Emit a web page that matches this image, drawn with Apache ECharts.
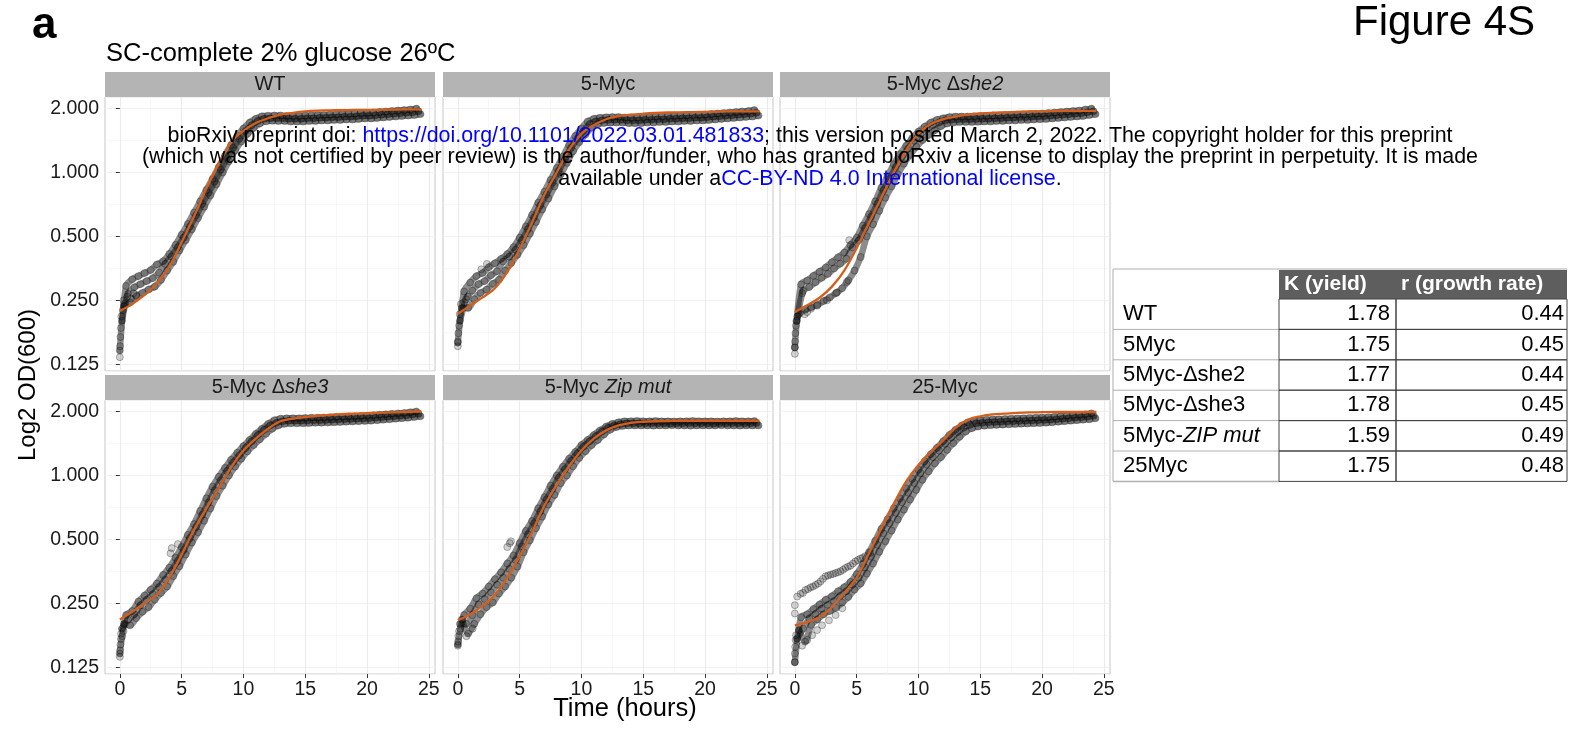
<!DOCTYPE html>
<html>
<head>
<meta charset="utf-8">
<script src="https://cdn.jsdelivr.net/npm/echarts@6/dist/echarts.min.js"></script>
<style>
  html, body { margin: 0; padding: 0; background: #fff; }
  #chart { width: 1576px; height: 729px; }
</style>
</head>
<body>
<div id="chart"></div>
<script>
// growth curves, SC-complete 2% glucose 26C
const FONT = '"Liberation Sans", Arial, Helvetica, sans-serif';

// sampling times (h) of the three replicate wells, and of the fitted curve
const TA = [0,0.5,1,1.5,2,2.5,3,3.5,4,4.5,5,5.5,6,6.5,7,7.5,8,8.5,9,9.5,10,10.5,11,11.5,12,12.5,13,13.5,14,14.5,15,15.5,16,16.5,17,17.5,18,18.5,19,19.5,20,20.5,21,21.5,22,22.5,23,23.5,24];
const TB = [0.17,0.67,1.17,1.67,2.17,2.67,3.17,3.67,4.17,4.67,5.17,5.67,6.17,6.67,7.17,7.67,8.17,8.67,9.17,9.67,10.17,10.67,11.17,11.67,12.17,12.67,13.17,13.67,14.17,14.67,15.17,15.67,16.17,16.67,17.17,17.67,18.17,18.67,19.17,19.67,20.17,20.67,21.17,21.67,22.17,22.67,23.17,23.67,24.17];
const TC = [0.33,0.83,1.33,1.83,2.33,2.83,3.33,3.83,4.33,4.83,5.33,5.83,6.33,6.83,7.33,7.83,8.33,8.83,9.33,9.83,10.33,10.83,11.33,11.83,12.33,12.83,13.33,13.83,14.33,14.83,15.33,15.83,16.33,16.83,17.33,17.83,18.33,18.83,19.33,19.83,20.33,20.83,21.33,21.83,22.33,22.83,23.33,23.83,24.33];
const TF = [0,1,2,3,4,5,6,7,8,9,10,11,12,13,14,15,16,17,18,19,20,21,22,23,24,24.4];

const panelTitles = ['WT', '5-Myc', '5-Myc \u0394{i|she2}', '5-Myc \u0394{i|she3}', '5-Myc {i|Zip mut}', '25-Myc'];

// OD600 per well
const wtA = [0.145,0.292,0.314,0.325,0.336,0.347,0.369,0.382,0.413,0.456,
  0.509,0.572,0.647,0.731,0.827,0.933,1.06,1.198,1.346,1.484,
  1.611,1.717,1.79,1.84,1.85,1.854,1.854,1.844,1.844,1.844,
  1.854,1.854,1.864,1.864,1.875,1.875,1.885,1.885,1.895,1.906,
  1.906,1.916,1.926,1.936,1.947,1.957,1.967,1.978,1.998];
const wtB = [0.20,0.268,0.288,0.298,0.308,0.318,0.338,0.371,0.402,0.443,
  0.494,0.556,0.628,0.711,0.803,0.906,1.03,1.164,1.308,1.442,
  1.566,1.669,1.751,1.79,1.80,1.80,1.80,1.79,1.79,1.79,
  1.80,1.80,1.81,1.81,1.82,1.82,1.83,1.83,1.84,1.85,
  1.85,1.86,1.87,1.88,1.89,1.90,1.91,1.92,1.94];
const wtC = [0.235,0.244,0.262,0.271,0.281,0.29,0.312,0.345,0.38,0.43,
  0.48,0.54,0.61,0.69,0.78,0.88,1.0,1.13,1.27,1.40,
  1.52,1.62,1.70,1.74,1.75,1.746,1.746,1.736,1.736,1.736,
  1.746,1.746,1.756,1.756,1.765,1.765,1.775,1.775,1.785,1.795,
  1.795,1.804,1.814,1.824,1.833,1.843,1.853,1.862,1.882];
const wtX = [[0,0.135],[0.02,0.152],[0.05,0.168],[0.08,0.185],[0.12,0.21],[0.25,0.225],[0.3,0.25],[0.6,0.26],[0.9,0.255],[1.3,0.265],[1.1,0.27],[0.4,0.24]];

const mycA = [0.158,0.275,0.303,0.325,0.336,0.358,0.374,0.392,0.413,0.445,
  0.493,0.557,0.631,0.721,0.811,0.922,1.049,1.187,1.346,1.484,
  1.611,1.738,1.79,1.81,1.82,1.823,1.823,1.813,1.813,1.813,
  1.823,1.823,1.833,1.833,1.844,1.844,1.854,1.854,1.864,1.864,
  1.875,1.885,1.895,1.906,1.916,1.926,1.936,1.947,1.967];
const mycB = [0.20,0.253,0.278,0.298,0.308,0.328,0.343,0.381,0.402,0.433,
  0.479,0.541,0.613,0.70,0.788,0.896,1.02,1.154,1.308,1.442,
  1.566,1.689,1.74,1.76,1.77,1.77,1.77,1.76,1.76,1.76,
  1.77,1.77,1.78,1.78,1.79,1.79,1.80,1.80,1.81,1.81,
  1.82,1.83,1.84,1.85,1.86,1.87,1.88,1.89,1.91];
const mycC = [0.23,0.23,0.253,0.271,0.281,0.299,0.313,0.345,0.375,0.41,
  0.455,0.515,0.585,0.67,0.755,0.86,0.98,1.11,1.26,1.39,
  1.51,1.63,1.69,1.71,1.715,1.717,1.717,1.707,1.707,1.707,
  1.717,1.717,1.727,1.727,1.736,1.736,1.746,1.746,1.756,1.756,
  1.765,1.775,1.785,1.795,1.804,1.814,1.824,1.833,1.853];
const mycX = [[0,0.152],[0,0.16],[0.05,0.175],[0.1,0.19],[0.15,0.215],[0.25,0.24],[2.35,0.371],[1.9,0.35],[0.5,0.245],[0.8,0.26]];

const she2A = [0.15,0.297,0.31,0.326,0.341,0.357,0.378,0.399,0.42,0.456,
  0.493,0.562,0.636,0.731,0.848,0.959,1.092,1.219,1.336,1.452,
  1.558,1.643,1.717,1.77,1.80,1.823,1.833,1.833,1.833,1.839,
  1.844,1.844,1.854,1.854,1.864,1.864,1.875,1.875,1.885,1.89,
  1.895,1.906,1.916,1.926,1.936,1.947,1.957,1.978,1.998];
const she2B = [0.20,0.277,0.289,0.304,0.319,0.333,0.353,0.372,0.392,0.443,
  0.479,0.546,0.618,0.711,0.824,0.932,1.061,1.185,1.298,1.411,
  1.514,1.597,1.669,1.72,1.76,1.77,1.78,1.78,1.78,1.785,
  1.79,1.79,1.80,1.80,1.81,1.81,1.82,1.82,1.83,1.835,
  1.84,1.85,1.86,1.87,1.88,1.89,1.90,1.92,1.94];
const she2C = [0.215,0.226,0.232,0.238,0.248,0.258,0.27,0.285,0.31,0.345,
  0.40,0.50,0.57,0.66,0.76,0.86,0.98,1.10,1.21,1.32,
  1.42,1.50,1.58,1.65,1.70,1.717,1.727,1.727,1.727,1.731,
  1.736,1.736,1.746,1.746,1.756,1.756,1.765,1.765,1.775,1.78,
  1.785,1.795,1.804,1.814,1.824,1.833,1.843,1.862,1.882];
const she2X = [[0,0.14],[0,0.15],[0.02,0.16],[0.05,0.175],[0.08,0.19],[0.12,0.2],[0.2,0.21],[0.8,0.215],[1.3,0.228],[1.8,0.236],[2.6,0.25],[3.4,0.272],[4.2,0.305],[4.4,0.48],[0.6,0.27],[1.0,0.22]];

const she3A = [0.145,0.22,0.23,0.255,0.272,0.29,0.31,0.34,0.368,0.41,
  0.46,0.525,0.59,0.68,0.78,0.885,0.985,1.085,1.185,1.28,
  1.375,1.47,1.57,1.66,1.75,1.82,1.85,1.86,1.86,1.86,
  1.865,1.87,1.87,1.875,1.88,1.885,1.89,1.895,1.90,1.905,
  1.91,1.92,1.93,1.94,1.95,1.96,1.97,1.985,2.0];
const she3B = [0.19,0.209,0.222,0.245,0.26,0.276,0.298,0.323,0.355,0.395,
  0.446,0.507,0.571,0.653,0.745,0.852,0.949,1.05,1.153,1.244,
  1.346,1.448,1.55,1.64,1.72,1.77,1.80,1.81,1.81,1.81,
  1.815,1.82,1.82,1.825,1.83,1.835,1.84,1.845,1.85,1.855,
  1.86,1.87,1.88,1.89,1.90,1.91,1.92,1.935,1.95];
const she3C = [0.20,0.197,0.213,0.228,0.24,0.26,0.28,0.30,0.336,0.374,
  0.425,0.483,0.54,0.613,0.70,0.80,0.895,1.0,1.10,1.20,
  1.30,1.39,1.48,1.57,1.66,1.72,1.75,1.76,1.76,1.76,
  1.765,1.77,1.77,1.775,1.78,1.785,1.79,1.795,1.80,1.805,
  1.81,1.82,1.83,1.84,1.85,1.86,1.87,1.885,1.90];
const she3X = [[0,0.14],[0.02,0.15],[0.05,0.16],[0.08,0.17],[0.1,0.18],[0.2,0.175],[0.3,0.185],[4.1,0.43],[4.2,0.455],[4.7,0.475]];

const zipA = [0.16,0.22,0.236,0.264,0.278,0.30,0.325,0.35,0.385,0.42,
  0.48,0.548,0.61,0.70,0.79,0.895,1.0,1.10,1.20,1.29,
  1.39,1.47,1.55,1.63,1.70,1.75,1.78,1.80,1.80,1.805,
  1.80,1.80,1.805,1.80,1.80,1.795,1.80,1.80,1.805,1.80,
  1.80,1.80,1.795,1.80,1.80,1.805,1.80,1.80,1.805];
const zipB = [0.20,0.20,0.22,0.247,0.262,0.282,0.306,0.33,0.363,0.40,
  0.463,0.528,0.596,0.677,0.77,0.865,0.977,1.07,1.173,1.27,
  1.367,1.45,1.53,1.61,1.68,1.72,1.745,1.76,1.76,1.76,
  1.76,1.765,1.76,1.76,1.755,1.76,1.76,1.765,1.76,1.76,
  1.76,1.755,1.76,1.76,1.765,1.76,1.76,1.76,1.765];
const zipC = [0.21,0.18,0.20,0.222,0.24,0.252,0.278,0.30,0.33,0.372,
  0.435,0.495,0.565,0.64,0.73,0.81,0.92,1.0,1.105,1.21,
  1.30,1.39,1.47,1.56,1.64,1.69,1.71,1.72,1.72,1.72,
  1.72,1.715,1.72,1.72,1.725,1.72,1.72,1.715,1.72,1.72,
  1.72,1.72,1.725,1.72,1.72,1.715,1.72,1.72,1.72];
const zipX = [[0,0.158],[0.02,0.165],[0.05,0.175],[0.1,0.185],[0.2,0.19],[4.0,0.46],[4.2,0.48],[4.3,0.49],[0.7,0.175],[1.2,0.19]];

const m25A = [0.132,0.215,0.222,0.235,0.247,0.26,0.27,0.285,0.298,0.315,
  0.343,0.382,0.435,0.492,0.56,0.622,0.70,0.78,0.87,0.965,
  1.065,1.165,1.26,1.35,1.45,1.55,1.64,1.72,1.78,1.81,
  1.82,1.83,1.835,1.84,1.845,1.85,1.855,1.86,1.865,1.87,
  1.875,1.88,1.89,1.90,1.91,1.92,1.93,1.94,1.96];
const m25B = [0.17,0.19,0.212,0.223,0.236,0.246,0.256,0.271,0.285,0.306,
  0.33,0.369,0.415,0.472,0.533,0.595,0.667,0.748,0.83,0.922,
  1.025,1.127,1.22,1.31,1.41,1.51,1.60,1.68,1.73,1.76,
  1.77,1.78,1.785,1.79,1.795,1.80,1.805,1.81,1.815,1.82,
  1.825,1.83,1.84,1.85,1.86,1.87,1.88,1.89,1.91];
const m25C = [0.187,0.165,0.198,0.21,0.222,0.23,0.238,0.252,0.268,0.29,
  0.31,0.345,0.385,0.437,0.49,0.55,0.62,0.69,0.77,0.855,
  0.955,1.045,1.14,1.22,1.32,1.42,1.52,1.61,1.67,1.70,
  1.715,1.725,1.73,1.735,1.74,1.745,1.75,1.755,1.76,1.765,
  1.77,1.78,1.79,1.80,1.81,1.82,1.83,1.84,1.86];
const m25X = [[0.19,0.269],[0.46,0.277],[0.86,0.289],[1.27,0.297],[1.68,0.305],[2.08,0.317],[2.49,0.335],[2.89,0.341],[3.3,0.347],[3.7,0.354],[4.1,0.367],[4.5,0.376],[4.9,0.394],[5.3,0.406],[5.7,0.417],[6.1,0.432],
  [0.66,0.28],[1.07,0.292],[1.47,0.3],[1.88,0.31],[2.28,0.326],[2.69,0.338],[3.1,0.344],[3.5,0.35],[3.9,0.36],[4.3,0.372],[4.7,0.385],[5.1,0.4],[5.5,0.41],
  [0,0.245],[0,0.224],
  [0.59,0.158],[1.0,0.168],[1.4,0.177],[1.8,0.187],[2.2,0.197],[2.76,0.208],[3.3,0.22],[3.84,0.237],
  [0,0.132],[0,0.145],[0.03,0.156],[0.06,0.168],[0.1,0.177]];

// fitted logistic curves, read at TF
const wtFit = [0.223,0.24,0.265,0.30,0.36,0.47,0.62,0.84,1.10,1.39,1.57,1.71,1.80,1.87,1.91,1.94,1.955,1.96,1.965,1.97,1.97,1.975,1.975,1.98,1.98,1.98];
const mycFit = [0.216,0.236,0.258,0.285,0.34,0.436,0.58,0.785,1.0,1.28,1.52,1.67,1.78,1.84,1.87,1.89,1.905,1.915,1.92,1.925,1.93,1.935,1.94,1.94,1.94,1.94];
const she2Fit = [0.22,0.237,0.257,0.29,0.345,0.44,0.58,0.76,1.0,1.27,1.52,1.69,1.78,1.83,1.87,1.895,1.91,1.92,1.93,1.94,1.94,1.945,1.95,1.95,1.95,1.95];
const she3Fit = [0.21,0.228,0.25,0.275,0.33,0.424,0.555,0.70,0.87,1.09,1.31,1.49,1.66,1.80,1.85,1.88,1.91,1.93,1.945,1.955,1.965,1.975,1.98,1.99,2.0,2.0];
const zipFit = [0.208,0.222,0.243,0.275,0.33,0.417,0.54,0.72,0.90,1.10,1.31,1.49,1.63,1.72,1.77,1.79,1.80,1.805,1.81,1.81,1.81,1.81,1.81,1.81,1.81,1.81];
const m25Fit = [0.197,0.204,0.215,0.24,0.28,0.33,0.43,0.565,0.735,0.935,1.12,1.29,1.46,1.68,1.83,1.90,1.94,1.955,1.97,1.98,1.985,1.99,1.99,1.99,1.99,1.99];

// table of fit parameters
const tableRows = ['WT', '5Myc', '5Myc-\u0394she2', '5Myc-\u0394she3', '5Myc-{i|ZIP mut}', '25Myc'];
const kYield = [1.78, 1.75, 1.77, 1.78, 1.59, 1.75];
const rGrowth = [0.44, 0.45, 0.44, 0.45, 0.49, 0.48];
const tableHead = ['K (yield)', 'r (growth rate)'];

const xTicks = [0, 5, 10, 15, 20, 25];
const xMinor = [2.5, 7.5, 12.5, 17.5, 22.5];

const repA = [wtA, mycA, she2A, she3A, zipA, m25A];
const repB = [wtB, mycB, she2B, she3B, zipB, m25B];
const repC = [wtC, mycC, she2C, she3C, zipC, m25C];
const extras = [wtX, mycX, she2X, she3X, zipX, m25X];
const fits = [wtFit, mycFit, she2Fit, she3Fit, zipFit, m25Fit];

// layout
const colLeft = [105, 443, 780];
const rowTop = [97, 400];
const panelW = 330, panelH = 274, stripH = 25;
const xMin = -1.2, xMax = 25.5;
const yMin = 0.1162, yMax = 2.266;

const chart = echarts.init(document.getElementById('chart'), null, { renderer: 'canvas' });

const grids = [], xAxes = [], yAxes = [], series = [], graphics = [];

function pairs(times, vals) {
  return times.map((t, k) => [t, vals[k]]);
}

for (let i = 0; i < 6; i++) {
  const col = i % 3, row = Math.floor(i / 3);
  grids.push({
    left: colLeft[col], top: rowTop[row], width: panelW, height: panelH,
    show: true, borderColor: '#c6c6c6', borderWidth: 1, backgroundColor: '#fff',
    containLabel: false, outerBoundsMode: 'none'
  });
  xAxes.push({
    gridIndex: i, type: 'value', min: xMin, max: xMax,
    axisLine: { show: false },
    axisTick: { show: row === 1, length: 4, customValues: xTicks, lineStyle: { color: '#333', width: 1 } },
    axisLabel: { show: row === 1, customValues: xTicks, fontSize: 19.5, color: '#1a1a1a', margin: 6, fontFamily: FONT },
    splitLine: { show: true, lineStyle: { color: '#ebebeb', width: 1.1 } }
  });
  xAxes.push({
    gridIndex: i, type: 'value', min: xMin, max: xMax, position: 'bottom',
    axisLine: { show: false },
    axisTick: { show: false, customValues: xMinor },
    axisLabel: { show: false, customValues: xMinor },
    splitLine: { show: true, lineStyle: { color: '#f3f3f3', width: 0.7 } }
  });
  yAxes.push({
    gridIndex: i, type: 'log', logBase: 2, min: yMin, max: yMax,
    axisLine: { show: false },
    axisTick: { show: col === 0, length: 4, lineStyle: { color: '#333', width: 1 } },
    axisLabel: {
      show: col === 0, fontSize: 19.5, color: '#1a1a1a', margin: 6, fontFamily: FONT,
      showMinLabel: false, showMaxLabel: false,
      formatter: v => v.toFixed(3)
    },
    splitLine: { show: true, lineStyle: { color: '#ebebeb', width: 1.1 } }
  });
  yAxes.push({
    gridIndex: i, type: 'log', logBase: Math.SQRT2, min: yMin, max: yMax, position: 'left',
    axisLine: { show: false }, axisTick: { show: false }, axisLabel: { show: false },
    splitLine: { show: true, lineStyle: { color: '#f3f3f3', width: 0.7 } }
  });

  const wells = [pairs(TA, repA[i]), pairs(TB, repB[i]), pairs(TC, repC[i])];

  // smear of each well
  wells.forEach(w => {
    series.push({
      type: 'line', xAxisIndex: 2 * i, yAxisIndex: 2 * i, data: w,
      showSymbol: false, smooth: 0.3, silent: true, z: 1,
      lineStyle: { color: 'rgba(0,0,0,0.45)', width: 6.5, cap: 'round', join: 'round' }
    });
  });

  const pts = [].concat(wells[0], wells[1], wells[2], extras[i]);
  series.push({
    type: 'scatter', xAxisIndex: 2 * i, yAxisIndex: 2 * i, data: pts,
    symbol: 'circle', symbolSize: 7, silent: true, z: 2,
    itemStyle: { color: 'rgba(30,30,30,0.25)', borderColor: 'rgba(0,0,0,0.45)', borderWidth: 0.8 }
  });
  series.push({
    type: 'line', xAxisIndex: 2 * i, yAxisIndex: 2 * i,
    data: pairs(TF, fits[i]),
    showSymbol: false, smooth: 0.35, silent: true, z: 3,
    lineStyle: { color: '#d45f1d', width: 2.3 }
  });

  // facet strip
  graphics.push({
    type: 'rect', shape: { x: colLeft[col], y: rowTop[row] - stripH, width: panelW, height: stripH },
    style: { fill: '#b4b4b4' }
  });
  graphics.push({
    type: 'text', x: colLeft[col] + panelW / 2, y: rowTop[row] - stripH / 2,
    style: {
      text: panelTitles[i], fontSize: 20, fontFamily: FONT, fill: '#1a1a1a',
      textAlign: 'center', textVerticalAlign: 'middle',
      rich: { i: { fontSize: 20, fontFamily: FONT, fill: '#1a1a1a', fontStyle: 'italic' } }
    }
  });
}

// titles and axis names
graphics.push({ type: 'text', x: 32, y: 26, style: { text: 'a', fontSize: 44, fontWeight: 'bold', fontFamily: FONT, fill: '#000', textVerticalAlign: 'middle' } });
graphics.push({ type: 'text', x: 1353, y: 23, style: { text: 'Figure 4S', fontSize: 42, fontFamily: FONT, fill: '#000', textVerticalAlign: 'middle' } });
graphics.push({ type: 'text', x: 106, y: 54, style: { text: 'SC-complete 2% glucose 26\u00baC', fontSize: 25.5, fontFamily: FONT, fill: '#000', textVerticalAlign: 'middle' } });
graphics.push({ type: 'text', x: 625, y: 709, style: { text: 'Time (hours)', fontSize: 25.5, fontFamily: FONT, fill: '#000', textAlign: 'center', textVerticalAlign: 'middle' } });
graphics.push({ type: 'text', x: 28, y: 385, rotation: Math.PI / 2, style: { text: 'Log2 OD(600)', fontSize: 24, fontFamily: FONT, fill: '#000', textAlign: 'center', textVerticalAlign: 'middle' } });

// bioRxiv stamp
const stampRich = { b: { fontSize: 21.4, fontFamily: FONT, fill: '#0000ff' } };
const stampLines = [
  'bioRxiv preprint doi: {b|https://doi.org/10.1101/2022.03.01.481833}; this version posted March 2, 2022. The copyright holder for this preprint',
  '(which was not certified by peer review) is the author/funder, who has granted bioRxiv a license to display the preprint in perpetuity. It is made',
  'available under a{b|CC-BY-ND 4.0 International license}.'
];
const stampY = [136, 157, 179];
stampLines.forEach((s, k) => {
  graphics.push({ type: 'text', x: 810, y: stampY[k], z: 100, style: {
    text: s, fontSize: 21.4, fontFamily: FONT, fill: '#000', textAlign: 'center', textVerticalAlign: 'middle', rich: stampRich } });
});

// parameter table
const tX = [1113, 1279, 1396, 1567];
const tTop = 269, tHeadH = 30, tRowH = 30.4;
const tBottom = tTop + tHeadH + tRowH * tableRows.length;
graphics.push({ type: 'rect', shape: { x: tX[1], y: tTop, width: tX[3] - tX[1], height: tHeadH }, style: { fill: '#5e5e5e' } });
tableHead.forEach((h, c) => {
  graphics.push({ type: 'text', x: tX[c + 1] + 5, y: tTop + tHeadH / 2, style: {
    text: h, fontSize: 21, fontWeight: 'bold', fontFamily: FONT, fill: '#fff', textVerticalAlign: 'middle' } });
});
graphics.push({ type: 'line', shape: { x1: tX[0], y1: tTop, x2: tX[3], y2: tTop }, style: { stroke: '#d6d6d6', lineWidth: 2 } });
graphics.push({ type: 'line', shape: { x1: tX[0], y1: tTop, x2: tX[0], y2: tBottom }, style: { stroke: '#d6d6d6', lineWidth: 2 } });
graphics.push({ type: 'line', shape: { x1: tX[0], y1: tBottom, x2: tX[1], y2: tBottom }, style: { stroke: '#bdbdbd', lineWidth: 1.5 } });
tableRows.forEach((name, r) => {
  const y0 = tTop + tHeadH + tRowH * r;
  const y1 = y0 + tRowH;
  graphics.push({ type: 'line', shape: { x1: tX[0], y1: y1, x2: tX[1], y2: y1 }, style: { stroke: '#b0b0b0', lineWidth: 1 } });
  graphics.push({ type: 'rect', shape: { x: tX[1], y: y0, width: tX[2] - tX[1], height: tRowH }, style: { fill: 'none', stroke: '#444', lineWidth: 1 } });
  graphics.push({ type: 'rect', shape: { x: tX[2], y: y0, width: tX[3] - tX[2], height: tRowH }, style: { fill: 'none', stroke: '#444', lineWidth: 1 } });
  graphics.push({ type: 'text', x: tX[0] + 10, y: (y0 + y1) / 2, style: {
    text: name, fontSize: 22, fontFamily: FONT, fill: '#000', textVerticalAlign: 'middle',
    rich: { i: { fontSize: 22, fontFamily: FONT, fill: '#000', fontStyle: 'italic' } } } });
  graphics.push({ type: 'text', x: tX[2] - 6, y: (y0 + y1) / 2, style: {
    text: kYield[r].toFixed(2), fontSize: 22, fontFamily: FONT, fill: '#000', textAlign: 'right', textVerticalAlign: 'middle' } });
  graphics.push({ type: 'text', x: tX[3] - 3, y: (y0 + y1) / 2, style: {
    text: rGrowth[r].toFixed(2), fontSize: 22, fontFamily: FONT, fill: '#000', textAlign: 'right', textVerticalAlign: 'middle' } });
});

chart.setOption({
  animation: false,
  backgroundColor: '#fff',
  textStyle: { fontFamily: FONT },
  grid: grids,
  xAxis: xAxes,
  yAxis: yAxes,
  series: series,
  graphic: graphics
});
</script>
</body>
</html>
